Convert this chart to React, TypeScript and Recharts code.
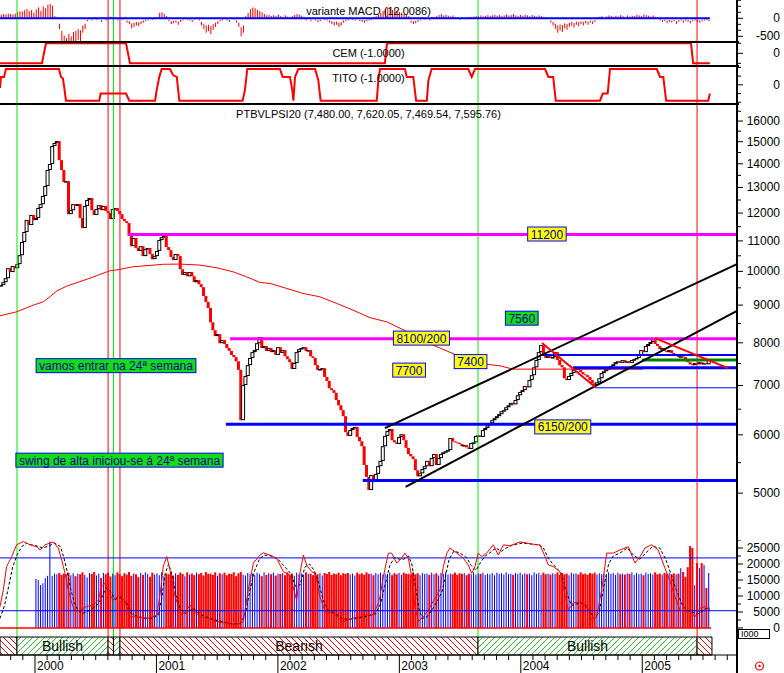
import React from 'react';
import { ComposedChart, Bar, Line, XAxis, YAxis, ReferenceLine, ReferenceArea, ReferenceDot } from 'recharts';

const FONT = "'Liberation Sans', Arial, Helvetica, sans-serif";
const CW = 784;
const AXW = 47;
const XD: [number, number] = [-0.43, 316.15];
const M0 = { top: 0, right: 0, bottom: 0, left: 0 };

// ---------- DATA (weekly, index 0 = late Sept 1999) ----------
const closes = [
  9580, 9670, 9790, 10100, 9980, 10170, 10100, 10230, 10520, 10960,
  11310, 11740, 11560, 11930, 11740, 11820, 12190, 12340, 12660, 13060,
  13730, 13990, 14800, 14940, 15030, 14160, 13730, 13220, 13260, 11960,
  12110, 12340, 12270, 12340, 11820, 11450, 12270, 12500, 12580, 12110,
  11930, 12150, 12300, 12110, 12270, 12080, 12000, 11780, 12150, 12190,
  12080, 11960, 11780, 11700, 11630, 11170, 10820, 11100, 10760, 10660,
  10820, 10490, 10720, 10760, 10560, 10390, 10490, 10660, 11030, 11130,
  11170, 10790, 10690, 10460, 10360, 10560, 10490, 10070, 9890, 9980,
  9850, 9980, 9850, 9670, 9730, 9610, 9520, 9260, 9090, 8920,
  8530, 8320, 8170, 8220, 7990, 8070, 7970, 7870, 7800, 7700,
  7650, 7550, 7350, 6280, 7010, 7210, 7460, 7630, 7770, 7820,
  7990, 8140, 7870, 7920, 7800, 7870, 7770, 7820, 7700, 7890,
  7750, 7820, 7670, 7600, 7530, 7370, 7510, 7770, 7840, 7870,
  7890, 7800, 7820, 7670, 7630, 7460, 7350, 7370, 7390, 7190,
  7100, 6940, 6900, 6840, 6690, 6580, 6480, 6360, 6050, 5980,
  6090, 6130, 6150, 5960, 5880, 5790, 5460, 5260, 5050, 5290,
  5210, 5310, 5440, 5530, 5790, 5980, 6070, 6110, 5900, 5860,
  5830, 5960, 6010, 5900, 5760, 5650, 5610, 5560, 5370, 5270,
  5320, 5390, 5440, 5530, 5440, 5580, 5650, 5460, 5580, 5650,
  5680, 5700, 5720, 5940, 5880, 5860, 5850, 5830, 5790, 5810,
  5770, 5740, 5850, 5860, 5980, 5990, 5960, 6090, 6130, 6180,
  6220, 6280, 6320, 6360, 6400, 6460, 6480, 6540, 6580, 6630,
  6600, 6690, 6790, 6860, 6900, 6990, 6960, 7120, 7230, 7410,
  7580, 7770, 7940, 7700, 7630, 7670, 7630, 7650, 7770, 7580,
  7460, 7410, 7160, 7120, 7210, 7280, 7350, 7390, 7350, 7300,
  7250, 7230, 7190, 7120, 7050, 7010, 7070, 7160, 7280, 7320,
  7370, 7390, 7440, 7480, 7530, 7550, 7510, 7580, 7530, 7550,
  7510, 7580, 7600, 7630, 7700, 7820, 7770, 7920, 7970, 8020,
  8090, 7970, 7920, 7840, 7870, 7800, 7770, 7820, 7750, 7700,
  7720, 7650, 7670, 7650, 7600, 7530, 7480, 7460, 7510, 7480,
  7530, 7480, 7510, 7480, 7596,
];

const volumes = [
  0, 0, 0, 0, 0, 0, 0, 0, 0, 0, 0, 0, 0, 0, 0,
  15300, 15000, 13400, 14000, 15600, 16300, 27000, 16300, 17000, 16800, 17200, 16600, 17000, 16900, 17300,
  16500, 17100, 16200, 17000, 16800, 17400, 16600, 15800, 17200, 16900, 17500, 16400, 17000, 15600, 17200,
  16800, 17300, 16100, 17000, 16500, 17400, 16900, 16200, 17100, 16700, 17500, 16300, 17000, 16800, 15900,
  17200, 16600, 17400, 16900, 16000, 17300, 16700, 17100, 16500, 17400, 16200, 17000, 16800, 17500, 16400,
  17100, 16600, 17300, 16900, 16200, 17400, 16700, 17000, 16500, 17300, 16800, 17200, 16400, 17500, 16900,
  17000, 16600, 17400, 16300, 17100, 16800, 17300, 16500, 17000, 16900, 17400, 16200, 17100, 17500, 16700,
  16400, 17200, 16800, 17000, 16500, 17300, 16900, 16200, 17400, 16600, 17100, 16800, 17300, 16400, 17000,
  16900, 17200, 16500, 17400, 16700, 17000, 16300, 17300, 16800, 17100, 16600, 17400, 16900, 17000, 16500,
  17300, 16800, 17100, 16400, 17200, 16900, 17500, 16600, 17000, 16800, 17300, 16500, 17100, 16900, 17200,
  16700, 17000, 16400, 17300, 16800, 17100, 16600, 17400, 16900, 17000, 16500, 17200, 16800, 17300, 16600,
  17000, 16900, 17400, 16500, 17100, 16800, 17200, 16600, 17300, 16900, 17000, 16700, 17400, 16800, 17100,
  16500, 17200, 16900, 17000, 16600, 17300, 16800, 17100, 16400, 17200, 16900, 17400, 16700, 17000, 16800,
  17300, 16600, 17100, 16900, 17200, 16500, 17000, 16800, 17400, 16700, 17100, 16900, 17300, 16600, 17000,
  16800, 17200, 16500, 17300, 16900, 17100, 16700, 17400, 16800, 17000, 16600, 17200, 16900, 17300, 16700,
  17100, 16800, 17000, 16500, 17400, 16900, 17200, 16600, 17300, 16800, 17000, 16700, 17100, 16900, 17400,
  16600, 17200, 16800, 17000, 16500, 17300, 16900, 17100, 16700, 17400, 16800, 17000, 16600, 17200, 16900,
  17300, 16700, 17100, 16800, 17000, 16500, 17400, 16900, 17200, 16600, 17300, 16800, 17000, 16700, 17100,
  16900, 17400, 16600, 17200, 16800, 17000, 16500, 17300, 16900, 17100, 16700, 17400, 16800, 17000, 16600,
  17200, 16900, 17300, 16700, 17100, 16800, 17000, 18700, 17500, 16000, 19000, 25600, 25000, 13400, 20300,
  18700, 20300, 19700, 12500, 17200,
];

const macd = [
  100, 120, 110, 130, 120, 100, 130,
  180, 200, 190, 220, 260, 200, 230,
  150, 250, 300, 200, 330, 280,
  380, 400, 350,
  60, 30,
  -150, -350, -480, -550, -430, -500, -380, -350, -300, -330, -200, -150,
  -40, 20, -30, 30, -20, 10, -50, 20, -30, 0, 40, -20, 30, -30, 10, -20, 40, -60, -80,
  -140, -120, -100, -110, -80, -60, -40,
  -30, 20, -20, 30, 40,
  150, 170, 120, 60,
  -40, -80, -70, -60, -90, -50, -30, 20,
  -20, -30, -50, -20, 30, -30,
  -100, -150, -200, -180, -220, -160, -120, -80,
  -40, -30, 20, -30, -50, 30, -20, -60, -120,
  -250, -200,
  60, 150, 250, 300, 280, 240, 200, 170, 120,
  80, 100, 60, 90, 70, 110, 60, 40, 80, 50, 30, 60, 90, 120, 100,
  70, 40, -30, 20, -40, 30, -30, -50, -40, 20, -20, -30,
  -60, -80, -100, -90, -120, -100, -60, -40, -30, 20, -20, -30, 10, -40, -50,
  -60, -40, -30, -20, 30, 60, 100,
  150, 200, 250, 300, 280, 230, 260, 200, 180, 150, 120, 100, 60,
  -60, -80, -70, -50, -30,
  30, -20, 20, -30, 40, 30,
  60, 90, 120, 80, 100, 70, 50, 80, 40,
  20, -20, 30, -10, 20, 40, 30, 50, 60,
  60, 80, 50, 70, 90, 60, 80, 100, 70, 90, 60, 80, 110, 70, 90, 120, 80, 60, 90, 70,
  100, 80, 60, 90, 70, 50, 80, 60, 40, 30, 20,
  -60, -100, -150, -200, -170, -190, -140, -160, -120, -100, -130, -90, -110, -80, -100, -70, -90, -60, -80, -50,
  20, 40, 60, 30, 50, 80, 60, 40, 70, 50, 90, 60, 40, 80, 50, 70, 60, 100, 80, 60, 110, 90, 70, 50, 80, 40, 30,
  -30, -50, -40, -70, -50, -60, -40, -80, -50, -30, -60, -40, -50, -70, -40, -30, -50, -60, -40, -30, -20, -40,
];

// [week, value]
const cemSteps: [number, number][] = [
  [-0.43, -1], [17.6, -1], [19.3, 1], [53.7, 1], [55.4, -1], [164.9, -1], [165.8, 1], [296.4, 1], [297.3, -1], [304.5, -1],
];

const titoSteps: [number, number][] = [
  [-0.43, -0.2], [0, 0.5], [1.3, 0.5], [2.1, 1], [24.9, 1], [25.8, 0.5], [26.6, 0.4], [27.1, -0.1], [27.9, -1],
  [42.2, -1], [42.8, -0.55], [53.7, -0.55], [55.1, -1], [66.2, -1], [66.9, -0.3], [68.0, 0.5], [69.0, 1],
  [72.6, 1], [74.0, 0.6], [75.5, 0.5], [76.6, -1], [103.8, -1], [104.8, -0.3], [105.8, 1], [119.8, 1],
  [121.0, 0.5], [124.1, 0.5], [125.1, -0.3], [125.6, -1], [126.3, 0.5], [127.7, 1], [134.9, 1], [136.3, 0.3],
  [137.3, -1], [161.4, -1], [162.1, 0.3], [162.8, 1], [173.5, 1], [174.3, 0.5], [177.1, 0.5], [178.3, -1],
  [182.9, -1], [183.6, 0.3], [185.0, 1], [200.7, 1], [202.2, 0.5], [203.6, 1], [233.7, 1], [235.1, 0.5],
  [237.2, 0.5], [238.3, -1], [257.3, -1], [258.5, -0.55], [260.6, -0.55], [261.6, 1], [281.7, 1], [283.1, 0.5],
  [284.5, 0.5], [285.7, -1], [303.8, -1], [304.5, -0.55],
];

const oscFast: [number, number][] = [
  [-0.43, 6700], [1.0, 11900], [2.4, 19200], [4.6, 22300], [6.7, 26000], [9.6, 27000], [12.5, 26000], [15.3, 25400],
  [16.8, 24400], [18.9, 26000], [22.5, 26900], [24.6, 25000], [26.1, 21200], [27.5, 17100], [28.9, 11900], [30.4, 7800],
  [31.8, 5100], [33.9, 5600], [36.8, 6700], [39.6, 7200], [41.8, 8700], [43.2, 12900], [44.7, 14000], [46.1, 11300],
  [48.2, 8700], [51.1, 10300], [53.3, 8200], [55.4, 3500], [58.3, 3500], [61.1, 3100], [64, 3100], [66.9, 4100],
  [68.3, 10300], [69.7, 19200], [71.2, 22300], [72.6, 18100], [74, 11900], [76.2, 6700], [77.6, 4100], [79.8, 5600],
  [81.2, 7200], [83.3, 5100], [85.5, 3500], [88.4, 3100], [92.7, 2000], [96.9, 1500], [101.2, 900], [104.1, 2000],
  [106.2, 11900], [108.4, 20300], [111.3, 22800], [112.7, 23500], [115.5, 22800], [118.4, 21800], [121.3, 17600],
  [124.1, 16500], [127, 8700], [128.4, 17100], [129.9, 22800], [131.3, 19700], [133.5, 17600], [134.9, 17100],
  [137, 9800], [139.2, 5100], [142.7, 4600], [147, 2000], [151.3, 3100], [154.2, 3500], [157.1, 4100], [159.9, 4100],
  [162.1, 7800], [162.8, 9800], [164.2, 16000], [166.4, 23400], [167.8, 23400], [170, 20300], [172.1, 21800],
  [173.5, 23400], [175, 21800], [176.4, 16000], [177.8, 6700], [179.3, 2000], [181.4, 3500], [183.5, 5600],
  [186.4, 9300], [188.6, 11900], [190, 19200], [191.5, 23400], [192.9, 25000], [195.8, 23400], [198.6, 21800],
  [200.7, 19700], [202.2, 17100], [203.6, 19200], [205, 23400], [206.5, 22300], [208.6, 23400], [211.5, 26000],
  [213.6, 22800], [215.8, 26000], [218.6, 25700], [223, 26900], [230.1, 26000], [231.5, 26000], [233.7, 22300],
  [235.1, 19700], [237.2, 19200], [240.1, 17600], [241.5, 12900], [243.7, 5600], [245.8, 7800], [248.7, 8200],
  [251.6, 7200], [253.7, 2500], [255.9, 3500], [258, 11900], [260.2, 23400], [263, 23400], [265.9, 24400],
  [269.5, 25400], [272.3, 20300], [274.5, 22300], [276.6, 25000], [279.5, 26000], [282.3, 24400], [285.2, 18700],
  [287.4, 14500], [289.5, 9800], [291.7, 5600], [293.9, 5100], [296, 5100], [298.1, 3500], [300.3, 6200],
  [302.4, 6700], [304.6, 5600],
];

const oscSlow: [number, number][] = [
  [-0.43, 3000], [1.5, 7000], [3, 12000], [5, 19000], [7, 23000], [9, 25500], [11, 26500], [13, 26000], [16, 25500],
  [18, 25000], [20, 25500], [23, 26500], [25.5, 25500], [27, 22000], [28.5, 17500], [30, 12000], [31.5, 8000],
  [33, 5500], [35, 4500], [38, 5500], [41, 7000], [43, 9000], [45, 12500], [47, 11500], [49, 9000], [51.5, 9500],
  [54, 8000], [56, 4500], [59, 3500], [62, 3000], [65, 3000], [67.5, 4000], [69, 9000], [70.5, 17000], [72, 20000],
  [73.5, 16500], [75, 11000], [77, 6000], [79, 4500], [81, 5500], [83, 6000], [85, 4500], [88, 3500], [92, 2500],
  [96, 1800], [100, 1200], [103, 1500], [105, 4500], [107, 12000], [109, 18000], [111, 21500], [113, 22800],
  [116, 22500], [119, 21500], [122, 19000], [124.5, 17000], [126.5, 13000], [128.5, 13500], [130.5, 19000],
  [132.5, 20000], [134.5, 18000], [136.5, 14000], [138.5, 8500], [140.5, 5500], [143, 4800], [147, 2800],
  [151, 2800], [155, 3300], [158, 3800], [161, 4500], [163, 7500], [165, 13500], [167, 19500], [169, 22000],
  [171, 21500], [173, 21500], [175, 22500], [176.5, 20000], [178, 13000], [179.5, 6000], [181, 3000], [183, 3500],
  [185, 5500], [187.5, 8500], [189.5, 11500], [191, 16500], [192.5, 21500], [194.5, 24000], [197, 23500],
  [200, 22000], [202, 19500], [204, 18000], [206, 20500], [208, 22500], [210, 23500], [212.5, 25000], [215, 24000],
  [217, 25000], [220, 26000], [224, 26500], [231, 26000], [233, 25000], [235, 22000], [237, 20000], [239, 18500],
  [241, 16500], [243, 11000], [245, 7000], [247, 7500], [250, 7800], [252.5, 5500], [255, 3000], [257, 5000],
  [259, 13000], [261, 20000], [263, 22500], [266, 23500], [269, 25000], [272, 22500], [274.5, 21500], [277, 23500],
  [280, 25500], [283, 25000], [285.5, 21500], [288, 16500], [290, 12000], [292.5, 7500], [294.5, 5500], [297, 5000],
  [299, 4200], [301, 5200], [303, 6200], [304.5, 6200],
];

const movingAvg: [number, number][] = [
  [-0.43, 8704], [6.7, 8813], [13.9, 9000], [18.2, 9094], [21.0, 9236], [23.9, 9403], [28.2, 9550], [33.9, 9686],
  [38.2, 9790], [42.5, 9905], [46.8, 10020], [51.1, 10063], [56.8, 10147], [64.0, 10190], [69.7, 10225],
  [76.9, 10232], [85.5, 10199], [92.7, 10113], [99.7, 9987], [105.5, 9832], [111.3, 9661], [115.6, 9631],
  [122.7, 9482], [129.7, 9335], [137.0, 9236], [144.2, 9047], [151.2, 8860], [158.5, 8653], [165.7, 8542],
  [174.3, 8287], [185.6, 7942], [195.7, 7697], [205.8, 7498], [214.4, 7444], [219.9, 7368], [275.8, 7368],
];

// horizontal support/resistance: [startWeek, price, colour, width]
const levels: [number, number, string, number][] = [
  [54.6, 11220, '#ff00ff', 3],
  [98.4, 8100, '#ff00ff', 3],
  [96.6, 6200, '#0000ff', 3],
  [155.4, 5200, '#0000ff', 3],
  [232.4, 7700, '#0000ff', 2],
  [245.7, 7400, '#0000ff', 3],
  [255.2, 6950, '#0000ff', 1],
  [275.3, 7580, '#008000', 3],
];

// trend lines: [w1, p1, w2, p2, colour]
const trendLines: [number, number, number, number, string][] = [
  [164.9, 6127, 316.15, 10231, '#000000'],
  [173.8, 5100, 316.15, 8841, '#000000'],
  [232.4, 7992, 255.2, 6965, '#ff0000'],
  [280.9, 8118, 312.3, 7391, '#ff0000'],
];

const annotations = [
  { text: '11200', w: 234.5, p: 11240, green: false },
  { text: '8100/200', w: 180.6, p: 8118, green: false },
  { text: '7700', w: 175.3, p: 7345, green: false },
  { text: '7400', w: 201.7, p: 7543, green: false },
  { text: '7560', w: 223.7, p: 8640, green: true },
  { text: '6150/200', w: 241.3, p: 6150, green: false },
  { text: 'vamos entrar na 24ª semana', w: 49.4, p: 7448, green: true },
  { text: 'swing de alta iniciou-se á 24ª semana', w: 50.9, p: 5543, green: true },
];

const verticals: [number, string][] = [
  [6.87, '#00ee00'], [46.0, '#ff0000'], [48.3, '#00ee00'], [51.1, '#ff0000'], [204.9, '#00ee00'], [299.0, '#ff0000'],
];

const regimes: [number, number, boolean, string][] = [
  [-0.43, 6.87, false, ''],
  [6.87, 46.0, true, 'Bullish'],
  [46.0, 48.3, false, ''],
  [48.3, 51.1, true, ''],
  [51.1, 204.9, false, 'Bearish'],
  [204.9, 299.0, true, 'Bullish'],
  [299.0, 305.4, false, ''],
];

const years = [2000, 2001, 2002, 2003, 2004, 2005];
const yearLabels = ['2000', '2001', '2002', '2003', '2004', '2005'];
const YEAR0_WEEK = 14.6;
const WEEKS_PER_YEAR = 52.17;

const priceTicks = [5000, 5500, 6000, 6500, 7000, 7500, 8000, 8500, 9000, 9500, 10000, 10500, 11000, 11500, 12000, 12500, 13000, 13500, 14000, 14500, 15000, 15500, 16000, 16500];
const volTicks = [0, 2500, 5000, 7500, 10000, 12500, 15000, 17500, 20000, 22500, 25000, 27500];
const macdTicks = [500, 333, 167, 0, -167, -333, -500];
const cemTicks = [1, 0, -1];
const titoTicks = [1.1, 0.55, 0, -0.55, -1.1];

// ---------- derived rows ----------
const candles = closes.map((c, i) => {
  const o = i === 0 ? c : closes[i - 1];
  return {
    w: i,
    open: o,
    close: c,
    body: [Math.min(o, c), Math.max(o, c)],
    up: c >= o,
    vol: volumes[i] ?? 0,
    macd: macd[i] ?? 0,
  };
});
const pts = (a: [number, number][]) => a.map(([w, v]) => ({ w, v }));
const cemData = pts(cemSteps);
const titoData = pts(titoSteps);
const fastData = pts(oscFast);
const slowData = pts(oscSlow);
const maData = pts(movingAvg);
const bandData = regimes.map(([a, b]) => ({ w: a, v: 0.5, w2: b }));

const axisTicks: number[] = [];
const yearAt = new Map<number, string>();
for (let k = -2; k <= 58; k++) {
  const w = +(YEAR0_WEEK + (WEEKS_PER_YEAR * k) / 10).toFixed(3);
  if (w < XD[0] || w > XD[1]) continue;
  axisTicks.push(w);
  if (k % 10 === 0) {
    const idx = years.indexOf(2000 + k / 10);
    if (idx >= 0) yearAt.set(w, yearLabels[idx]);
  }
}

// ---------- helpers ----------
let measureCtx: CanvasRenderingContext2D | null = null;
function textWidth(s: string, size: number) {
  try {
    if (!measureCtx) measureCtx = document.createElement('canvas').getContext('2d');
    if (measureCtx) {
      measureCtx.font = `${size}px ${FONT}`;
      return measureCtx.measureText(s).width;
    }
  } catch (e) { /* ignore */ }
  return s.length * size * 0.55;
}

const AXIS_X = CW - AXW;

function makeRightTick(isMajor: (v: number) => boolean, label: (v: number) => string | null) {
  return (p: any) => {
    const { y, payload } = p;
    const x = AXIS_X;
    const v = payload.value;
    const major = isMajor(v);
    const lab = label(v);
    return (
      <g>
        <line x1={x} y1={y} x2={x + (major ? 6 : 4)} y2={y} stroke="#000" strokeWidth={1} />
        {lab !== null && (
          <text x={x + 43} y={y + 4} textAnchor="end" fontSize={12} fontFamily={FONT} fill="#000">{lab}</text>
        )}
      </g>
    );
  };
}

const priceTick = makeRightTick((v) => v % 1000 === 0, (v) => (v % 1000 === 0 ? String(v) : null));
const volTick = makeRightTick((v) => v % 5000 === 0, (v) => (v % 5000 === 0 ? String(v) : null));
const macdTick = makeRightTick((v) => v === 0 || v === -500, (v) => (v === 0 ? '0' : v === -500 ? '-500' : null));
const zeroTick = makeRightTick((v) => v === 0, (v) => (v === 0 ? '0' : null));

const AXIS_Y = 27; // axis line y inside the band chart (655 - 628)

const BottomTick = (p: any) => {
  const { x, payload } = p;
  const y = AXIS_Y;
  const lab = yearAt.get(payload.value);
  if (lab) {
    return (
      <g>
        <line x1={x} y1={y} x2={x} y2={y + 18} stroke="#000" strokeWidth={1} />
        <text x={x + 2} y={y + 15} fontSize={12} fontFamily={FONT} fill="#000">{lab}</text>
      </g>
    );
  }
  return <line x1={x} y1={y} x2={x} y2={y + 5} stroke="#000" strokeWidth={1} />;
};

const Candle = (p: any) => {
  const { x, y, width, height, payload } = p;
  if (x == null || y == null) return <g />;
  const cx = x + (width || 0) / 2;
  const h = Math.max(1, height || 0);
  if (payload && payload.up) {
    return <rect x={cx - 1.5} y={y + 0.5} width={3} height={Math.max(h - 1, 0.5)} fill="#ffffff" stroke="#000" strokeWidth={1} />;
  }
  return <rect x={cx - 1.5} y={y} width={3} height={h} fill="#ff0000" />;
};

const VolBar = (p: any) => {
  const { x, y, width, height, payload } = p;
  if (!payload || !payload.vol || x == null) return <g />;
  const cx = x + (width || 0) / 2;
  if (payload.up) return <rect x={cx - 0.5} y={y} width={1} height={height} fill="#0000ff" />;
  return <rect x={cx - 1} y={y} width={2} height={height} fill="#ff0000" />;
};

const MacdBar = (p: any) => {
  const { x, y, width, height } = p;
  if (x == null || !height) return <g />;
  const cx = x + (width || 0) / 2;
  return <rect x={cx - 0.5} y={y} width={1} height={Math.abs(height)} fill="#ff0000" />;
};

const annShape = (a: { text: string; green: boolean }) => (p: any) => {
  const { cx, cy } = p;
  const bw = textWidth(a.text, 12) + 6;
  const bh = 14;
  return (
    <g>
      <rect x={cx - bw / 2} y={cy - bh / 2} width={bw} height={bh} fill={a.green ? '#11dd11' : '#ffff00'} stroke="#0000ff" strokeWidth={1} />
      <text x={cx} y={cy + 4.5} textAnchor="middle" fontSize={12} fontFamily={FONT} fill="#0000a0">{a.text}</text>
    </g>
  );
};

const hiddenX = <XAxis dataKey="w" type="number" domain={XD} allowDataOverflow hide />;

const vLines = () =>
  verticals.map(([w, c], i) => <ReferenceLine key={'v' + i} x={w} stroke={c} strokeWidth={1} />);

export default function App() {
  const abs = (top: number): React.CSSProperties => ({ position: 'absolute', left: 0, top });
  return (
    <div style={{ position: 'absolute', left: 0, top: 0, width: CW, height: 673, background: '#fff', overflow: 'hidden', fontFamily: FONT }}>
      <svg width={0} height={0} style={{ position: 'absolute' }}>
        <defs>
          <pattern id="hatchRed" width={6} height={6} patternUnits="userSpaceOnUse">
            <rect width={6} height={6} fill="#ffffff" />
            <path d="M0,0 L6,6 M-1,5 L1,7 M5,-1 L7,1" stroke="#ff0000" strokeWidth={1} />
          </pattern>
          <pattern id="hatchGreen" width={6} height={6} patternUnits="userSpaceOnUse">
            <rect width={6} height={6} fill="#ffffff" />
            <path d="M0,6 L6,0 M-1,1 L1,-1 M5,7 L7,5" stroke="#22cc22" strokeWidth={1} />
          </pattern>
        </defs>
      </svg>

      {/* MACD panel */}
      <div style={abs(0)}>
        <ComposedChart width={CW} height={42} data={candles} margin={M0}>
          {hiddenX}
          <YAxis orientation="right" width={AXW} domain={[-658, 508]} allowDataOverflow ticks={macdTicks} interval={0} tick={macdTick} tickLine={false} tickSize={0} tickMargin={0} axisLine={false} />
          {vLines()}
          <Bar dataKey="macd" barSize={1} fill="#ff0000" shape={MacdBar} isAnimationActive={false} />
          <ReferenceLine segment={[{ x: XD[0], y: 0 }, { x: 304.5, y: 0 }]} stroke="#0000ff" strokeWidth={2} />
        </ComposedChart>
      </div>

      {/* CEM panel */}
      <div style={abs(42)}>
        <ComposedChart width={CW} height={24} data={cemData} margin={M0}>
          {hiddenX}
          <YAxis orientation="right" width={AXW} domain={[-1.27, 1.13]} allowDataOverflow ticks={cemTicks} interval={0} tick={zeroTick} tickLine={false} tickSize={0} tickMargin={0} axisLine={false} />
          {vLines()}
          <Line dataKey="v" type="linear" stroke="#ff0000" strokeWidth={2} dot={false} isAnimationActive={false} />
        </ComposedChart>
      </div>

      {/* TITO panel */}
      <div style={abs(66)}>
        <ComposedChart width={CW} height={38} data={titoData} margin={M0}>
          {hiddenX}
          <YAxis orientation="right" width={AXW} domain={[-1.21, 1.19]} allowDataOverflow ticks={titoTicks} interval={0} tick={zeroTick} tickLine={false} tickSize={0} tickMargin={0} axisLine={false} />
          {vLines()}
          <Line dataKey="v" type="linear" stroke="#ff0000" strokeWidth={2} dot={false} isAnimationActive={false} />
        </ComposedChart>
      </div>

      {/* Price panel */}
      <div style={abs(104)}>
        <ComposedChart width={CW} height={533} data={candles} margin={M0}>
          {hiddenX}
          <YAxis orientation="right" width={AXW} scale="log" domain={[3189, 16876]} allowDataOverflow ticks={priceTicks} interval={0} tick={priceTick} tickLine={false} tickSize={0} tickMargin={0} axisLine={false} />
          {vLines()}
          <Line data={maData} dataKey="v" type="linear" stroke="#ff0000" strokeWidth={1} dot={false} isAnimationActive={false} />
          <Bar dataKey="body" barSize={3} shape={Candle} isAnimationActive={false} />
          {levels.map(([w, p, c, sw], i) => (
            <ReferenceLine key={'l' + i} segment={[{ x: w, y: p }, { x: XD[1], y: p }]} stroke={c} strokeWidth={sw} />
          ))}
          {trendLines.map(([w1, p1, w2, p2, c], i) => (
            <ReferenceLine key={'t' + i} segment={[{ x: w1, y: p1 }, { x: w2, y: p2 }]} stroke={c} strokeWidth={2} />
          ))}
          {annotations.map((a, i) => (
            <ReferenceDot key={'a' + i} x={a.w} y={a.p} r={1} shape={annShape(a)} ifOverflow="visible" />
          ))}
        </ComposedChart>
      </div>

      {/* Volume + oscillator overlay */}
      <div style={abs(540)}>
        <ComposedChart width={CW} height={96} data={candles} margin={{ top: 0, right: 0, bottom: 8, left: 0 }}>
          {hiddenX}
          <YAxis orientation="right" width={AXW} domain={[0, 27500]} allowDataOverflow ticks={volTicks} interval={0} tick={volTick} tickLine={false} tickSize={0} tickMargin={0} axisLine={false} />
          <Bar dataKey="vol" barSize={3} shape={VolBar} isAnimationActive={false} />
          <ReferenceLine y={21900} stroke="#0000ff" strokeWidth={1} />
          <ReferenceLine y={5400} stroke="#0000ff" strokeWidth={1} />
          <ReferenceLine segment={[{ x: XD[0], y: 0 }, { x: 305, y: 0 }]} stroke="#ff0000" strokeWidth={1.5} />
          <Line data={slowData} dataKey="v" type="linear" stroke="#000000" strokeWidth={1} strokeDasharray="3 2" dot={false} isAnimationActive={false} />
          <Line data={fastData} dataKey="v" type="linear" stroke="#ff0000" strokeWidth={1} dot={false} isAnimationActive={false} />
        </ComposedChart>
      </div>

      {/* Regime band + time axis */}
      <div style={abs(628)}>
        <ComposedChart width={CW} height={45} data={bandData} margin={{ top: 9, right: 0, bottom: 0, left: 0 }}>
          <XAxis dataKey="w" type="number" domain={XD} allowDataOverflow ticks={axisTicks} interval={0} tick={BottomTick} tickLine={false} tickSize={0} tickMargin={0} height={18} axisLine={{ stroke: '#000', strokeWidth: 1 }} />
          <YAxis orientation="right" width={AXW} type="number" domain={[0, 1]} allowDataOverflow tick={false} tickLine={false} axisLine={false} />
          <Line dataKey="v" stroke="none" dot={false} activeDot={false} isAnimationActive={false} legendType="none" />
          {regimes.map(([a, b, bull, lab], i) => (
            <ReferenceArea
              key={'r' + i}
              x1={a}
              x2={b}
              y1={0}
              y2={1}
              fill={bull ? 'url(#hatchGreen)' : 'url(#hatchRed)'}
              fillOpacity={1}
              stroke="#000"
              strokeWidth={1}
              ifOverflow="visible"
              label={lab ? { value: lab, position: 'center', fontSize: 14, fill: '#000', fontFamily: FONT } : undefined}
            />
          ))}
        </ComposedChart>
      </div>

      {/* frame, titles */}
      <svg width={CW} height={673} style={{ position: 'absolute', left: 0, top: 0, pointerEvents: 'none' }}>
        <line x1={0} x2={739} y1={42} y2={42} stroke="#000" strokeWidth={2} />
        <line x1={0} x2={739} y1={66} y2={66} stroke="#000" strokeWidth={2} />
        <line x1={0} x2={739} y1={104} y2={104} stroke="#000" strokeWidth={2} />
        <line x1={737} x2={737} y1={0} y2={673} stroke="#000" strokeWidth={2} />
        <text x={368.5} y={15} textAnchor="middle" fontSize={11} fontFamily={FONT} fill="#000">variante MACD (12.0086)</text>
        <text x={368.5} y={56.5} textAnchor="middle" fontSize={11} fontFamily={FONT} fill="#000">CEM (-1.0000)</text>
        <text x={368.5} y={81.5} textAnchor="middle" fontSize={11} fontFamily={FONT} fill="#000">TITO (-1.0000)</text>
        <text x={368.5} y={117.5} textAnchor="middle" fontSize={11} fontFamily={FONT} fill="#000">PTBVLPSI20 (7,480.00, 7,620.05, 7,469.54, 7,595.76)</text>
        <rect x={738.5} y={629.5} width={31} height={9} fill="#fff" stroke="#000" strokeWidth={1} />
        <text x={741} y={637} fontSize={9} fontFamily={FONT} fill="#000">I000</text>
        <circle cx={759.5} cy={666} r={4} fill="none" stroke="#ff0000" strokeWidth={1.2} />
        <circle cx={759.5} cy={666} r={1.2} fill="#ff0000" />
      </svg>
    </div>
  );
}
